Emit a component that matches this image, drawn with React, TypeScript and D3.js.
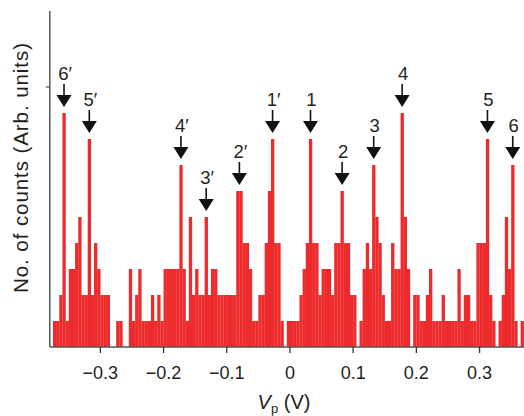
import React from "react";
import * as d3 from "d3";

const binStart = -0.375;
const binWidth = 0.005;
const counts = [
  1, 1, 2, 9, 1, 3, 3, 4, 5, 2, 2, 8, 2, 4, 3, 2, 2, 2, 0, 0,
  1, 1, 0, 0, 3, 1, 2, 3, 1, 1, 1, 2, 1, 2, 1, 3, 3, 3, 3, 3,
  7, 3, 1, 5, 2, 3, 2, 2, 5, 2, 3, 3, 2, 2, 2, 2, 2, 2, 6, 6,
  4, 4, 3, 1, 1, 2, 2, 4, 6, 8, 4, 4, 1, 0, 1, 1, 1, 1, 2, 3,
  4, 8, 4, 4, 2, 3, 3, 3, 2, 4, 4, 6, 4, 4, 2, 2, 0, 1, 3, 4,
  3, 7, 5, 4, 2, 1, 1, 4, 3, 3, 9, 5, 3, 0, 2, 2, 1, 1, 2, 3,
  1, 1, 1, 2, 1, 1, 1, 1, 3, 1, 2, 2, 1, 1, 4, 4, 4, 8, 2, 1,
  0, 1, 2, 5, 3, 7, 1, 0, 1,
];
const xTicks = [-0.3, -0.2, -0.1, 0, 0.1, 0.2, 0.3];
const yTicks = [10];
const peakLabels = ["6′", "5′", "4′", "3′", "2′", "1′", "1", "2", "3", "4", "5", "6"];
const peakV = [-0.3575, -0.3175, -0.1725, -0.1325, -0.08, -0.0275, 0.0325, 0.0825, 0.1325, 0.1775, 0.3125, 0.3525];

const W = 524;
const H = 416;
const FONT = "'Liberation Sans', Arial, Helvetica, sans-serif";
const RED = "#ee2b2c";
const AXIS = "#555";
const INK = "#231f20";

export default function App() {
  const x = d3.scaleLinear().domain([-0.38, 0.37]).range([49.8, 523.8]);
  const y = d3.scaleLinear().domain([0, 13]).range([347, 9]);
  const bins = counts.map((c, i) => ({
    x0: binStart + i * binWidth,
    x1: binStart + (i + 1) * binWidth,
    c,
  }));
  const countAt = (v: number) => {
    let m = 0;
    bins.forEach((b) => {
      if (b.x1 > v - 0.001 && b.x0 < v + 0.001) m = Math.max(m, b.c);
    });
    return m;
  };
  const fmt = (v: number) =>
    v === 0 ? "0" : (v < 0 ? "\u2212" : "") + Math.abs(v).toFixed(1);

  return (
    <svg
      width={W}
      height={H}
      style={{ position: "fixed", left: 0, top: 0, background: "#fff" }}
      fontFamily={FONT}
    >
      <g>
        {bins
          .filter((b) => b.c > 0)
          .map((b, i) => (
            <rect
              key={i}
              x={x(b.x0)}
              y={y(b.c)}
              width={x(b.x1) - x(b.x0) + 0.15}
              height={y(0) - y(b.c)}
              fill={RED}
            />
          ))}
      </g>
      <line x1={x.range()[0]} x2={W} y1={y(0)} y2={y(0)} stroke={AXIS} strokeWidth={1.5} />
      <line x1={x.range()[0]} x2={x.range()[0]} y1={y.range()[1] + 2} y2={y(0)} stroke={AXIS} strokeWidth={1.5} />
      {yTicks.map((t) => (
        <line key={t} x1={x.range()[0] - 4} x2={x.range()[0]} y1={y(t)} y2={y(t)} stroke={AXIS} strokeWidth={1.2} />
      ))}
      {xTicks.map((t) => (
        <g key={t}>
          <line x1={x(t)} x2={x(t)} y1={y(0)} y2={y(0) + 6} stroke="#333" strokeWidth={1.3} />
          <text x={x(t)} y={379} textAnchor="middle" fontSize={18} fill={INK}>
            {fmt(t)}
          </text>
        </g>
      ))}
      <text x={284} y={409} textAnchor="middle" fontSize={20} fill={INK}>
        <tspan fontStyle="italic">V</tspan>
        <tspan fontSize={13} dy={4}>p</tspan>
        <tspan dy={-4}> (V)</tspan>
      </text>
      <text
        transform={`translate(28,168) rotate(-90)`}
        textAnchor="middle"
        fontSize={20.5}
        fill={INK}
        textLength={250}
        lengthAdjust="spacing"
      >
        No. of counts (Arb. units)
      </text>
      {peakV.map((v, i) => {
        const px = x(v);
        const tip = y(countAt(v)) - 6;
        return (
          <g key={i}>
            <line x1={px} x2={px} y1={tip - 23} y2={tip - 11} stroke="#111" strokeWidth={1.6} />
            <path
              d={`M${px - 7.5},${tip - 12}L${px + 7.5},${tip - 12}L${px},${tip}Z`}
              fill="#111"
            />
            <text x={px + 1} y={tip - 27} textAnchor="middle" fontSize={18.5} fill={INK}>
              {peakLabels[i]}
            </text>
          </g>
        );
      })}
    </svg>
  );
}
